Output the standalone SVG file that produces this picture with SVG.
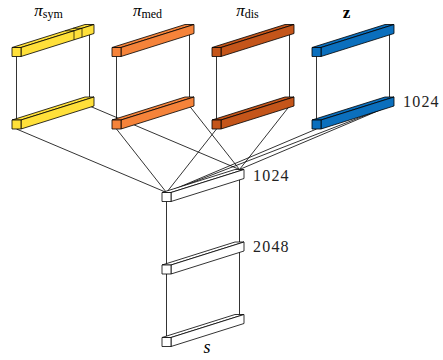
<svg xmlns="http://www.w3.org/2000/svg" xmlns:xlink="http://www.w3.org/1999/xlink" width="443" height="360" viewBox="0 0 443 360">
<style>
.bar polygon,.bar rect{stroke:#000;stroke-width:0.8;stroke-linejoin:round}
.y{fill:#FFE03A}.o{fill:#F5833A}.d{fill:#C4551A}.b{fill:#0B6FBD}.w{fill:#fff}
.conn line{stroke:#000;stroke-width:0.8}
.lbl{font-family:"Liberation Serif","DejaVu Serif",serif;fill:#000}
.num{font-family:"Liberation Serif","DejaVu Serif",serif;font-size:16px;letter-spacing:1.2px;fill:#222}
.div{stroke:#000;stroke-width:0.7;fill:none}
</style>
<defs>
<g id="bar" class="bar">
<polygon points="0,0 9,0 82,-23 73,-23"/>
<polygon points="9,0 9,9 82,-14 82,-23"/>
<rect x="0" y="0" width="9" height="9"/>
</g>
</defs>
<g id="connectors" class="conn">
<line x1="16.5" y1="56.5" x2="16.5" y2="120"/>
<line x1="89.5" y1="33.5" x2="89.5" y2="97"/>
<line x1="116.5" y1="56.5" x2="116.5" y2="120"/>
<line x1="189.5" y1="33.5" x2="189.5" y2="97"/>
<line x1="216.5" y1="56.5" x2="216.5" y2="120"/>
<line x1="289.5" y1="33.5" x2="289.5" y2="97"/>
<line x1="316.5" y1="56.5" x2="316.5" y2="120"/>
<line x1="389.5" y1="33.5" x2="389.5" y2="97"/>
<line x1="166.5" y1="201.5" x2="166.5" y2="265"/>
<line x1="239.5" y1="178.5" x2="239.5" y2="242"/>
<line x1="166.5" y1="274" x2="166.5" y2="337.5"/>
<line x1="239.5" y1="251" x2="239.5" y2="314.5"/>
<line x1="16.5" y1="129" x2="166.5" y2="192.5"/>
<line x1="89.5" y1="106" x2="239.5" y2="169.5"/>
<line x1="116.5" y1="129" x2="166.5" y2="192.5"/>
<line x1="189.5" y1="106" x2="239.5" y2="169.5"/>
<line x1="216.5" y1="129" x2="166.5" y2="192.5"/>
<line x1="289.5" y1="106" x2="239.5" y2="169.5"/>
<line x1="316.5" y1="129" x2="166.5" y2="192.5"/>
<line x1="389.5" y1="106" x2="239.5" y2="169.5"/>
<line x1="389.5" y1="106" x2="166.5" y2="192.5"/>
</g>
<g id="sym-top"><use xlink:href="#bar" href="#bar" x="12" y="47.5" class="y"/>
<path class="div" d="M65,30.8 H74 V39.8 M73,28.3 H82 V37.3"/></g>
<g id="sym-bottom"><use xlink:href="#bar" href="#bar" x="12" y="120" class="y"/></g>
<g id="med-top"><use xlink:href="#bar" href="#bar" x="112" y="47.5" class="o"/></g>
<g id="med-bottom"><use xlink:href="#bar" href="#bar" x="112" y="120" class="o"/></g>
<g id="dis-top"><use xlink:href="#bar" href="#bar" x="212" y="47.5" class="d"/></g>
<g id="dis-bottom"><use xlink:href="#bar" href="#bar" x="212" y="120" class="d"/></g>
<g id="z-top"><use xlink:href="#bar" href="#bar" x="312" y="47.5" class="b"/></g>
<g id="z-bottom"><use xlink:href="#bar" href="#bar" x="312" y="120" class="b"/></g>
<g id="h1024"><use xlink:href="#bar" href="#bar" x="162" y="192.5" class="w"/></g>
<g id="h2048"><use xlink:href="#bar" href="#bar" x="162" y="265" class="w"/></g>
<g id="s-layer"><use xlink:href="#bar" href="#bar" x="162" y="337.5" class="w"/></g>
<g id="labels">
<text class="lbl" x="48.5" y="15.5" text-anchor="middle" font-size="17"><tspan font-style="italic">π</tspan><tspan font-size="12" dy="2.5">sym</tspan></text>
<text class="lbl" x="147.5" y="15.5" text-anchor="middle" font-size="17"><tspan font-style="italic">π</tspan><tspan font-size="12" dy="2.5">med</tspan></text>
<text class="lbl" x="247.5" y="15.5" text-anchor="middle" font-size="17"><tspan font-style="italic">π</tspan><tspan font-size="12" dy="2.5">dis</tspan></text>
<text class="lbl" x="346.5" y="18" text-anchor="middle" font-size="17" font-weight="bold">z</text>
<text class="num" x="403" y="107">1024</text>
<text class="num" x="253" y="180.5">1024</text>
<text class="num" x="253" y="252">2048</text>
<text class="lbl" x="207" y="353" text-anchor="middle" font-size="18" font-style="italic">s</text>
</g>
</svg>
